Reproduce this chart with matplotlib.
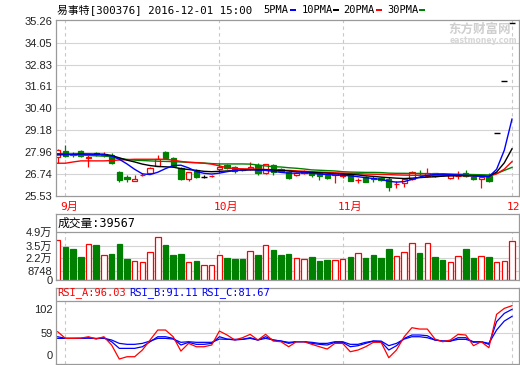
import matplotlib
matplotlib.use('Agg')
import matplotlib.pyplot as plt
from matplotlib.patches import Rectangle
from matplotlib.transforms import blended_transform_factory

# ---------------- data ----------------
title_text = "易事特[300376] 2016-12-01 15:00"
ma_names = ["5PMA", "10PMA", "20PMA", "30PMA"]

opens = [27.72, 28.03, 27.86, 28.03, 27.66, 27.92, 27.80, 27.81, 26.85, 26.58,
         26.38, 26.68, 26.80, 27.20, 27.96, 27.63, 27.10, 26.46, 27.00, 26.58,
         26.62, 27.03, 27.24, 27.16, 27.02, 27.03, 27.26, 26.80, 27.26, 27.05,
         26.88, 26.70, 26.80, 26.88, 26.78, 26.72, 26.70, 26.62, 26.70, 26.40,
         26.57, 26.55, 26.55, 26.46, 26.18, 26.27, 26.46, 26.82, 26.66, 26.78,
         26.74, 26.55, 26.62, 26.83, 26.60, 26.50, 26.62, 29.04, 31.94, 35.13]
closes = [28.09, 27.75, 27.78, 27.75, 27.72, 27.86, 27.85, 27.38, 26.42, 26.47,
          26.48, 26.72, 27.11, 27.57, 27.63, 27.20, 26.46, 26.85, 26.60, 26.58,
          26.66, 27.12, 27.11, 26.94, 26.95, 27.16, 26.79, 27.29, 26.84, 26.90,
          26.55, 26.83, 26.92, 26.70, 26.62, 26.55, 26.80, 26.75, 26.38, 26.44,
          26.33, 26.45, 26.40, 26.05, 26.22, 26.50, 26.88, 26.78, 26.78, 26.66,
          26.70, 26.70, 26.66, 26.65, 26.45, 26.58, 26.35, 29.04, 31.94, 35.13]
highs = [28.12, 28.36, 27.95, 28.08, 27.82, 28.00, 27.95, 27.90, 26.92, 26.70,
         26.70, 26.80, 27.13, 27.81, 28.05, 27.70, 27.15, 26.88, 27.02, 26.68,
         26.68, 27.35, 27.30, 27.20, 27.05, 27.44, 27.35, 27.32, 27.30, 27.10,
         26.92, 26.86, 26.95, 26.92, 26.82, 26.76, 26.88, 26.80, 26.75, 26.52,
         26.65, 26.62, 26.60, 26.60, 26.35, 26.52, 26.90, 27.00, 27.07, 26.80,
         26.80, 26.72, 26.90, 26.95, 26.65, 26.62, 26.78, 29.04, 31.94, 35.13]
lows = [27.35, 27.70, 27.70, 27.70, 27.16, 27.75, 27.72, 27.30, 26.30, 26.30,
        26.36, 26.62, 26.78, 27.18, 27.58, 27.15, 26.40, 26.35, 26.52, 26.52,
        26.60, 26.80, 27.05, 26.80, 26.90, 26.98, 26.70, 26.75, 26.70, 26.85,
        26.50, 26.65, 26.75, 26.60, 26.43, 26.50, 26.24, 26.55, 26.35, 26.24,
        26.28, 26.33, 26.35, 25.83, 26.00, 26.05, 26.42, 26.60, 26.60, 26.60,
        26.62, 26.50, 26.50, 26.58, 26.40, 25.96, 26.30, 29.04, 31.94, 35.13]

ma5 = [27.87, 27.85, 27.85, 27.86, 27.85, 27.82, 27.82, 27.75, 27.57, 27.31,
       27.01, 26.76, 26.72, 26.85, 27.05, 27.22, 27.24, 27.09, 26.89, 26.79,
       26.75, 26.80, 26.88, 26.95, 26.98, 27.00, 26.98, 26.95, 26.90, 26.84,
       26.80, 26.80, 26.82, 26.79, 26.75, 26.72, 26.70, 26.68, 26.65, 26.60,
       26.55, 26.50, 26.45, 26.35, 26.30, 26.33, 26.45, 26.58, 26.68, 26.72,
       26.74, 26.72, 26.70, 26.68, 26.65, 26.62, 26.60, 27.01, 28.07, 29.80]
ma10 = [27.81, 27.83, 27.85, 27.86, 27.86, 27.86, 27.85, 27.78, 27.65, 27.52,
        27.42, 27.30, 27.22, 27.17, 27.15, 27.13, 27.05, 27.00, 26.95, 26.90,
        26.88, 26.90, 26.92, 26.94, 26.96, 26.98, 26.98, 26.98, 26.97, 26.95,
        26.92, 26.88, 26.86, 26.84, 26.82, 26.80, 26.77, 26.75, 26.73, 26.70,
        26.65, 26.62, 26.58, 26.55, 26.52, 26.50, 26.52, 26.55, 26.58, 26.60,
        26.63, 26.65, 26.66, 26.66, 26.65, 26.64, 26.62, 26.86, 27.37, 28.15]
ma20 = [27.35, 27.35, 27.42, 27.48, 27.48, 27.48, 27.48, 27.50, 27.53, 27.55,
        27.57, 27.57, 27.57, 27.57, 27.57, 27.52, 27.45, 27.40, 27.38, 27.35,
        27.30, 27.20, 27.10, 27.05, 27.04, 27.03, 27.02, 27.00, 26.98, 26.96,
        26.95, 26.93, 26.90, 26.88, 26.86, 26.84, 26.82, 26.80, 26.79, 26.77,
        26.75, 26.74, 26.73, 26.72, 26.70, 26.69, 26.68, 26.68, 26.68, 26.68,
        26.67, 26.67, 26.66, 26.66, 26.65, 26.64, 26.62, 26.76, 27.02, 27.44]
ma30 = [27.87, 27.85, 27.82, 27.80, 27.78, 27.76, 27.74, 27.72, 27.62, 27.56,
        27.52, 27.50, 27.48, 27.46, 27.45, 27.44, 27.42, 27.40, 27.38, 27.36,
        27.33, 27.31, 27.31, 27.31, 27.31, 27.30, 27.25, 27.20, 27.16, 27.14,
        27.10, 27.07, 27.03, 26.98, 26.96, 26.94, 26.92, 26.88, 26.86, 26.85,
        26.84, 26.84, 26.83, 26.80, 26.79, 26.79, 26.78, 26.78, 26.77, 26.76,
        26.76, 26.75, 26.74, 26.73, 26.72, 26.71, 26.70, 26.78, 26.95, 27.12]

volumes = [40600, 33800, 31450, 23700, 36200, 35500, 25400, 26400, 36500, 21300,
           19300, 17900, 28100, 43300, 35500, 25400, 26400, 17900, 19300, 15200,
           15200, 25400, 22600, 21300, 21300, 29400, 25400, 35500, 30400, 25400,
           26400, 22000, 21300, 23300, 19300, 20300, 20300, 21300, 23300, 27100,
           22600, 25400, 22600, 31450, 24000, 28100, 37200, 27400, 37200, 23300,
           20300, 17900, 24000, 31450, 22600, 24000, 23300, 17900, 19300, 39567]
vol_up = [1, 0, 0, 0, 1, 0, 1, 0, 0, 0, 1, 1, 1, 1, 0, 0, 0, 1, 0, 1,
          1, 1, 0, 0, 0, 1, 0, 1, 0, 0, 0, 1, 1, 0, 0, 0, 1, 1, 0, 1,
          0, 0, 0, 0, 1, 1, 1, 0, 1, 0, 0, 1, 1, 0, 0, 1, 0, 1, 1, 1]

rsi_a = [61.1, 52.2, 52.2, 52.5, 54.4, 51.3, 54.4, 43.3, 24.5, 27.6,
         27.6, 36.6, 50.0, 63.4, 63.4, 54.4, 35.2, 45.5, 41.0, 41.0,
         43.3, 62.0, 56.7, 50.0, 53.1, 57.6, 50.0, 57.6, 48.6, 47.7,
         41.0, 47.7, 47.7, 44.2, 41.0, 37.9, 45.5, 45.5, 34.3, 36.6,
         41.0, 46.9, 46.9, 26.3, 36.6, 54.4, 66.5, 64.7, 64.7, 51.3,
         47.7, 50.0, 57.6, 56.7, 42.4, 47.7, 39.7, 84.4, 92.4, 96.03]
rsi_b = [54.4, 52.2, 52.2, 52.2, 53.0, 52.0, 53.0, 47.7, 38.8, 38.8,
         38.8, 41.0, 47.7, 54.4, 54.4, 52.2, 43.3, 46.9, 44.2, 44.2,
         45.5, 54.4, 51.3, 50.0, 50.9, 53.1, 50.0, 54.4, 50.0, 48.6,
         45.5, 47.7, 47.7, 45.5, 44.2, 43.3, 46.9, 46.9, 41.0, 42.4,
         45.5, 48.6, 47.7, 36.6, 42.4, 52.2, 56.7, 56.7, 55.8, 50.0,
         48.6, 48.6, 53.1, 53.1, 46.9, 47.7, 44.2, 74.6, 85.7, 91.11]
rsi_c = [52.2, 52.2, 52.2, 52.2, 52.5, 52.0, 52.3, 50.0, 45.5, 44.2,
         44.2, 45.5, 48.6, 52.2, 52.2, 51.3, 46.9, 47.7, 46.9, 46.9,
         46.9, 51.3, 50.9, 50.9, 50.9, 52.2, 50.0, 52.2, 50.0, 48.6,
         46.9, 47.7, 47.7, 46.9, 45.5, 45.5, 47.7, 47.7, 44.2, 44.2,
         46.9, 48.6, 48.6, 42.4, 45.5, 51.3, 54.4, 54.4, 53.1, 50.0,
         48.6, 48.6, 50.9, 50.9, 47.7, 47.7, 45.5, 63.4, 75.4, 81.67]

price_ticks = [35.26, 34.05, 32.83, 31.61, 30.40, 29.18, 27.96, 26.74, 25.53]
price_tick_labels = ["35.26", "34.05", "32.83", "31.61", "30.40", "29.18", "27.96", "26.74", "25.53"]
vol_ticks = [49000, 35000, 22000, 8748, 0]
vol_tick_labels = ["4.9万", "3.5万", "2.2万", "8748", "0"]
rsi_tick_labels = ["102", "59", "0"]
month_bars = [1, 21, 37, 59]
month_labels = ["9月", "10月", "11月", "12"]
vol_header = "成交量:39567"
rsi_headers = ["RSI_A:96.03", "RSI_B:91.11", "RSI_C:81.67"]

# ---------------- style ----------------
RED = "#ff0000"
GREEN = "#008000"
BLUE = "#0000ff"
BLACK = "#000000"
BORDER = "#9a9a9a"
GRID = "#d4d4d4"
DASH = "#c8c8c8"
MONO = ["DejaVu Sans Mono", "Noto Sans CJK SC"]
SANS = ["Liberation Sans", "Noto Sans CJK SC"]

W, H = 520.0, 365.0
fig = plt.figure(figsize=(5.2, 3.65), dpi=100)
fig.patch.set_facecolor("white")


def box(x0, y0, x1, y1):
    return [x0 / W, 1 - y1 / H, (x1 - x0) / W, (y1 - y0) / H]


ax = fig.add_axes(box(56, 19.5, 519, 196))
axv = fig.add_axes(box(56, 214, 519, 280))
axr = fig.add_axes(box(56, 287.7, 519, 364))

n = len(closes)
xl = (-0.22, 59.91)
for a in (ax, axv, axr):
    a.set_xlim(*xl)
    a.set_xticks([])
    for s in a.spines.values():
        s.set_color(BORDER)
        s.set_linewidth(0.9)
    a.tick_params(axis="y", length=0, pad=2.5, labelsize=8, labelcolor="#222222")
    a.set_facecolor("white")

# ---------------- main price panel ----------------
ax.set_ylim(25.54, 35.33)
ax.set_yticks(price_ticks)
ax.set_yticklabels(price_tick_labels, family=SANS)
for p in price_ticks[1:-1]:
    ax.axhline(p, color=GRID, lw=0.8, zorder=0)
for mb in month_bars:
    ax.axvline(mb, color=DASH, lw=0.8, ls=(0, (3, 3)), zorder=0)

bw = 0.68
for i in range(n):
    o, c, h, l = opens[i], closes[i], highs[i], lows[i]
    if c > o:
        ax.vlines(i, c, h, color=RED, lw=0.9, zorder=2)
        ax.vlines(i, l, o, color=RED, lw=0.9, zorder=2)
        ax.add_patch(Rectangle((i - bw / 2, o), bw, c - o, facecolor="white",
                               edgecolor=RED, lw=0.9, zorder=2))
    elif c < o:
        ax.vlines(i, l, h, color=GREEN, lw=0.9, zorder=2)
        ax.add_patch(Rectangle((i - bw / 2, c), bw, o - c, facecolor=GREEN,
                               edgecolor=GREEN, lw=0.9, zorder=2))
    else:
        ax.vlines(i, l, h, color=BLACK, lw=0.9, zorder=2)
        ax.hlines(o, i - bw / 2 - 0.05, i + bw / 2 + 0.05, color=BLACK, lw=1.0, zorder=2)

xs = list(range(n))
ax.plot(xs, ma30, color=GREEN, lw=1.0, zorder=3)
ax.plot(xs, ma20, color=RED, lw=1.0, zorder=3)
ax.plot(xs, ma10, color=BLACK, lw=1.0, zorder=3)
ax.plot(xs, ma5, color=BLUE, lw=1.0, zorder=3)

# month labels under main panel
tr = blended_transform_factory(ax.transData, fig.transFigure)
for mb, lab in zip(month_bars, month_labels):
    ax.text(mb - 0.68, 1 - 206.7 / H, lab, transform=tr, color=RED, fontsize=8,
            family=MONO, ha="left", va="center", clip_on=False)

# ---------------- volume panel ----------------
vol_top_px = 232.3
vscale = 48400 / (280 - vol_top_px)
axv.set_ylim(0, (280 - 214) * vscale)
sep_v = (280 - vol_top_px) * vscale
axv.axhline(sep_v, color=BORDER, lw=0.9)
axv.set_yticks(vol_ticks)
axv.set_yticklabels(vol_tick_labels, family=SANS)
for v in vol_ticks[1:-1]:
    axv.axhline(v, color=GRID, lw=0.8, zorder=0)
for mb in month_bars:
    axv.vlines(mb, 0, sep_v, color=DASH, lw=0.8, linestyles=(0, (3, 3)), zorder=0)
for i in range(n):
    if vol_up[i]:
        axv.bar(i, volumes[i], width=0.72, facecolor="white", edgecolor=RED, lw=0.9, zorder=2)
    else:
        axv.bar(i, volumes[i], width=0.72, facecolor=GREEN, edgecolor=GREEN, lw=0.9, zorder=2)
fig.text(58 / W, 1 - 223.5 / H, vol_header, fontsize=8.5, family=MONO,
         color=BLACK, ha="left", va="center")

# ---------------- RSI panel ----------------
rscale = 0.746
r_lo = 59 - (364 - 333.3) / rscale
r_hi = 59 + (333.3 - 287.7) / rscale
axr.set_ylim(r_lo, r_hi)
sep_r = 59 + (333.3 - 301) / rscale
axr.axhline(sep_r, color=BORDER, lw=0.9)
axr.axhline(59, color=GRID, lw=0.8, zorder=0)
for mb in month_bars:
    axr.vlines(mb, r_lo, sep_r, color=DASH, lw=0.8, linestyles=(0, (3, 3)), zorder=0)
axr.set_yticks([59 + (333.3 - 309.3) / rscale, 59, 59 - (355 - 333.3) / rscale])
axr.set_yticklabels(rsi_tick_labels, family=SANS)
axr.plot(xs, rsi_c, color=BLUE, lw=0.9, zorder=2)
axr.plot(xs, rsi_b, color=BLUE, lw=0.9, zorder=2)
axr.plot(xs, rsi_a, color=RED, lw=0.9, zorder=3)
for xpx, txt, col in zip([57, 129, 201], rsi_headers, [RED, BLUE, BLUE]):
    fig.text(xpx / W, 1 - 292.5 / H, txt, fontsize=7.5, family=MONO, color=col,
             ha="left", va="center")

# ---------------- header ----------------
fig.text(57 / W, 1 - 9.5 / H, title_text, fontsize=7.8, family=MONO, color=BLACK,
         ha="left", va="center")
leg_x = [263, 302, 343, 387]
leg_rect = [290, 333, 376, 419]
leg_col = [BLUE, BLACK, RED, GREEN]
for lx, rx, name, col in zip(leg_x, leg_rect, ma_names, leg_col):
    fig.text(lx / W, 1 - 10 / H, name, fontsize=7.5, family=MONO, color=BLACK,
             ha="left", va="center")
    fig.patches.append(Rectangle((rx / W, 1 - 11.3 / H), 6 / W, 2.2 / H,
                                 transform=fig.transFigure, facecolor=col,
                                 edgecolor="none"))

# watermark
fig.text(448 / W, 1 - 29 / H, "东方财富网", fontsize=9, family=["Noto Sans CJK SC"],
         weight="bold", color="#cfcfcf", ha="left", va="center", zorder=1)
fig.text(450 / W, 1 - 40.5 / H, "eastmoney.com", fontsize=5.5, family=["DejaVu Sans"],
         weight="bold", color="#d6d6d6", ha="left", va="center", zorder=1)

fig.savefig("out.png", dpi=100, facecolor="white")
